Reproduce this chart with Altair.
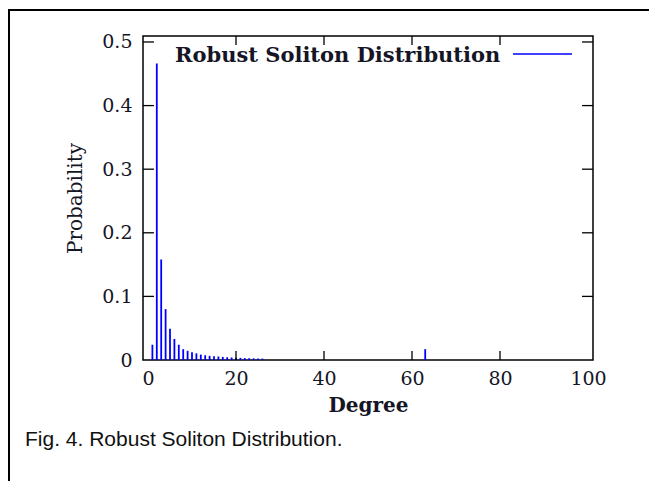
import altair as alt
import pandas as pd

degrees = list(range(1, 27)) + [63]
probs = [0.024, 0.466, 0.158, 0.080, 0.049, 0.033, 0.024, 0.017, 0.0145, 0.012,
         0.0105, 0.0085, 0.0075, 0.0065, 0.006, 0.0055, 0.0048, 0.0043, 0.004,
         0.0036, 0.0033, 0.003, 0.0028, 0.0026, 0.0024, 0.0022, 0.017]

x_ticks = [0, 20, 40, 60, 80, 100]
y_ticks = [0, 0.1, 0.2, 0.3, 0.4, 0.5]
inner_x_ticks = [20, 40, 60, 80]
inner_y_ticks = [0.1, 0.2, 0.3, 0.4, 0.5]

legend_label = "Robust Soliton Distribution"
caption = "Fig. 4. Robust Soliton Distribution."

W, H = 450, 324
SERIF = "DejaVu Serif"
TXT = "#151525"

df = pd.DataFrame({"Degree": degrees, "Probability": probs})
xs = alt.Scale(domain=[0, 100], nice=False)
ys = alt.Scale(domain=[0, 0.5094], nice=False)

bars = alt.Chart(df).mark_bar(size=1.8, color="#0000ff").encode(
    x=alt.X("Degree:Q", scale=xs,
            axis=alt.Axis(values=x_ticks, format="d", title="Degree", ticks=False,
                          domain=False, grid=False, labelFont=SERIF, labelFontSize=19,
                          labelColor=TXT, labelPadding=9, titleFont=SERIF,
                          titleFontSize=20, titleFontWeight="bold", titleColor=TXT,
                          titlePadding=7)),
    y=alt.Y("Probability:Q", scale=ys,
            axis=alt.Axis(values=y_ticks, title="Probability", ticks=False,
                          domain=False, grid=False, labelFont=SERIF, labelFontSize=19,
                          labelColor=TXT, labelPadding=11,
                          labelExpr="datum.value == 0 ? '0' : format(datum.value, '.1f')",
                          titleFont=SERIF, titleFontSize=20, titleFontWeight="normal",
                          titleColor=TXT, titlePadding=16)),
)

ty = pd.DataFrame({"v": inner_y_ticks})
tx = pd.DataFrame({"v": inner_x_ticks})
tick_style = dict(color="black", strokeWidth=1.3)
left_ticks = alt.Chart(ty).mark_rule(**tick_style).encode(
    y=alt.Y("v:Q", scale=ys), x=alt.value(0), x2=alt.value(11))
right_ticks = alt.Chart(ty).mark_rule(**tick_style).encode(
    y=alt.Y("v:Q", scale=ys), x=alt.value(W - 11), x2=alt.value(W))
bottom_ticks = alt.Chart(tx).mark_rule(**tick_style).encode(
    x=alt.X("v:Q", scale=xs), y=alt.value(H - 9), y2=alt.value(H))
top_ticks = alt.Chart(tx).mark_rule(**tick_style).encode(
    x=alt.X("v:Q", scale=xs), y=alt.value(0), y2=alt.value(9))

one = pd.DataFrame({"t": [legend_label]})
legend_text = alt.Chart(one).mark_text(font=SERIF, fontSize=21, fontWeight="bold",
                                       color=TXT, align="left", baseline="alphabetic").encode(
    text="t:N", x=alt.value(32), y=alt.value(26))
legend_line = alt.Chart(one).mark_rule(color="#0000ff", strokeWidth=1.3).encode(
    x=alt.value(370), x2=alt.value(429), y=alt.value(18))

cap = pd.DataFrame({"t": [caption]})
caption_text = alt.Chart(cap).mark_text(font="Liberation Sans", fontSize=21,
                                        color="#111", align="left", baseline="alphabetic").encode(
    text="t:N", x=alt.value(25 - 143), y=alt.value(446 - 36))

border_top = alt.Chart(one).mark_rule(color="black", strokeWidth=2).encode(
    x=alt.value(-135), x2=alt.value(510), y=alt.value(10 - 36))
border_left = alt.Chart(one).mark_rule(color="black", strokeWidth=2).encode(
    x=alt.value(-134), y=alt.value(10 - 37), y2=alt.value(480))

chart = alt.layer(bars, left_ticks, right_ticks, bottom_ticks, top_ticks,
                  legend_text, legend_line, caption_text, border_top, border_left).properties(
    width=W, height=H,
    autosize=alt.AutoSizeParams(type="none"),
    padding={"left": 135, "top": 28, "right": 56, "bottom": 121},
).configure_view(stroke="black", strokeWidth=1.5)

chart.save("out.html", embed_options={"renderer": "svg", "actions": False})
